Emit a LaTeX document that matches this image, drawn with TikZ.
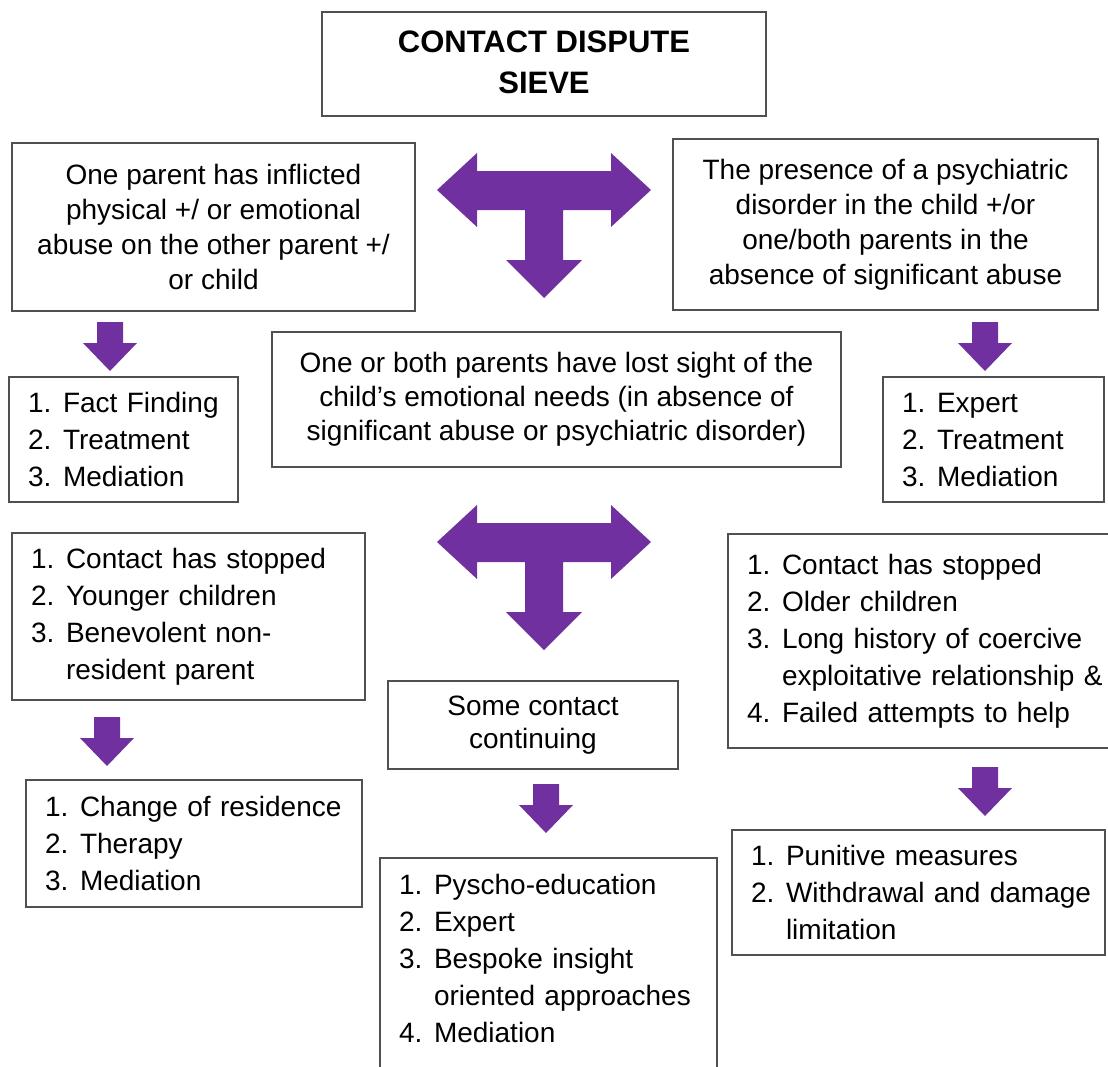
\documentclass[tikz,border=0pt]{standalone}
\usepackage{fontspec}
\setmainfont{Liberation Sans}
\definecolor{sievepurple}{HTML}{7030A0}
\definecolor{boxgray}{HTML}{505050}

% numbered line with hanging indent
\newcommand{\sieveitem}[2]{\raggedright\hangindent=35pt\hangafter=1\noindent\makebox[35pt][l]{#1}#2\par}

\begin{document}
\begin{tikzpicture}[x=1pt, y=-1pt,
		box/.style={draw=boxgray, line width=1.8pt, fill=white, inner sep=0pt, align=center,
			font=\fontsize{28}{35}\selectfont},
		listbox/.style={draw=boxgray, line width=1.8pt, fill=white, inner xsep=19pt, inner ysep=0pt,
			font=\fontsize{28}{37}\selectfont}]
		\clip (0,0) rectangle (1108,1066);

		% Macro for the purple T arrow. Usage: \drawtee{x}{y}
		\newcommand{\drawtee}[2]{
			\fill[sievepurple, shift={(#1,#2)}] (-107,0) -- (-67,-37) -- (-67,-19) -- (67,-19) -- (67,-37)
				-- (107,0) -- (67,37) -- (67,20) -- (19,20) -- (19,70) -- (38,70) -- (0,108)
				-- (-38,70) -- (-19,70) -- (-19,20) -- (-67,20) -- (-67,37) -- cycle;
		}
		% Macro for a small purple down arrow. Usage: \drawdown{x}{top}
		\newcommand{\drawdown}[2]{
			\fill[sievepurple, shift={(#1,#2)}] (-13,0) -- (13,0) -- (13,21) -- (27,21) -- (0,49)
				-- (-27,21) -- (-13,21) -- cycle;
		}

		% Title
		\node[box, minimum width=444, minimum height=104, font=\bfseries\fontsize{31}{41}\selectfont]
			(title) at (544,64) {\raisebox{4pt}{CONTACT DISPUTE}\\\raisebox{4pt}{SIEVE}};

		% First level
		\node[box, minimum width=403, minimum height=168] (abuse) at (213.5,227)
			{One parent has inflicted\\physical +/ or emotional\\abuse on the other parent +/\\or child};
		\node[box, minimum width=425, minimum height=171] (psych) at (885.5,224.5)
			{The presence of a psychiatric\\disorder in the child +/or\\one/both parents in the\\absence of significant abuse};
		\node[box, minimum width=569, minimum height=135, font=\fontsize{28}{34}\selectfont] (lost) at (556.5,399.5)
			{One or both parents have lost sight of the\\child’s emotional needs (in absence of\\significant abuse or psychiatric disorder)};

		\drawtee{544}{190};
		\drawdown{110}{322};
		\drawdown{985}{322};

		% Responses
		\node[listbox, text width=191, minimum height=125] (fact) at (123.5,439.5)
			{\sieveitem{1.}{Fact Finding}\sieveitem{2.}{Treatment}\sieveitem{3.}{Mediation}};
		\node[listbox, text width=183, minimum height=125] (expert) at (993.5,439.5)
			{\sieveitem{1.}{Expert}\sieveitem{2.}{Treatment}\sieveitem{3.}{Mediation}};

		\drawtee{544}{542};

		% Second level
		\node[listbox, text width=315, minimum height=167] (younger) at (188.5,616.5)
			{\sieveitem{1.}{Contact has stopped}\sieveitem{2.}{Younger children}%
			\sieveitem{3.}{Benevolent non-\newline resident parent}};
		\node[box, minimum width=290, minimum height=88, font=\fontsize{28}{33}\selectfont] (some) at (533,725)
			{Some contact\\continuing};
		\node[listbox, text width=349, minimum height=214] (older) at (921.5,641)
			{\sieveitem{1.}{Contact has stopped}\sieveitem{2.}{Older children}%
			\sieveitem{3.}{Long history of coercive\newline \mbox{exploitative relationship \&}}%
			\sieveitem{4.}{Failed attempts to help}};

		\drawdown{107}{717};
		\drawdown{546}{784};
		\drawdown{985}{767};

		% Outcomes
		\node[listbox, text width=298, minimum height=127] (residence) at (194,843.5)
			{\sieveitem{1.}{Change of residence}\sieveitem{2.}{Therapy}\sieveitem{3.}{Mediation}};
		\node[listbox, text width=299, inner ysep=16pt, anchor=north] (educate) at (548.5,857)
			{\sieveitem{1.}{Pyscho-education}\sieveitem{2.}{Expert}%
			\sieveitem{3.}{Bespoke insight\newline oriented approaches}\sieveitem{4.}{Mediation}%
			\rule{0pt}{40pt}\par};
		\node[listbox, text width=335, minimum height=125] (punitive) at (918.5,892.5)
			{\sieveitem{1.}{Punitive measures}\sieveitem{2.}{\mbox{Withdrawal and damage}\newline limitation}};
	\end{tikzpicture}
\end{document}
